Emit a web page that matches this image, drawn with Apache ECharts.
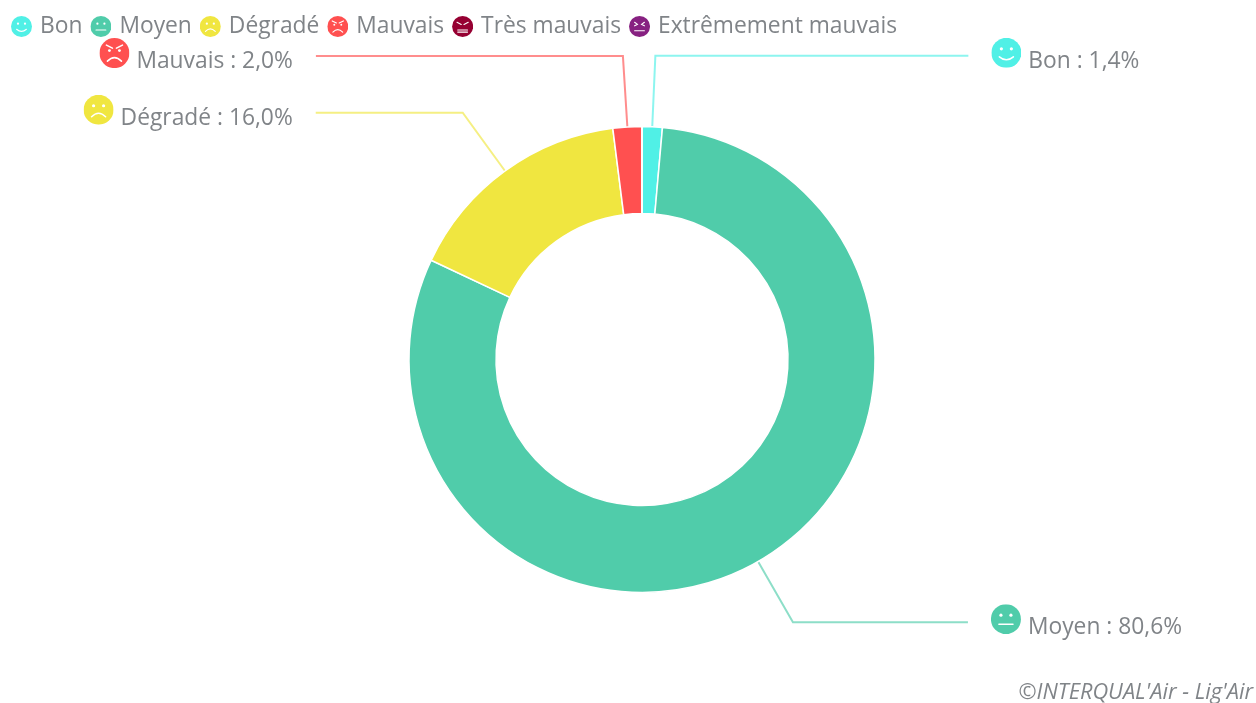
<!DOCTYPE html>
<html>
<head>
<meta charset="utf-8">
<title>Indice qualité de l'air</title>
<script src="https://cdn.jsdelivr.net/npm/echarts@6/dist/echarts.min.js"></script>
<style>
html,body{margin:0;padding:0;background:#fff;}
#main{width:1256px;height:703px;}
</style>
</head>
<body>
<div id="main"></div>
<script>
var categories = ['Bon','Moyen','Dégradé','Mauvais','Très mauvais','Extrêmement mauvais'];
var values = [1.4,80.6,16.0,2.0,0,0];
var colors = ['#50f0e6','#50ccaa','#f0e640','#ff5050','#960032','#872181'];
var faces = ['smile','flat','frown','angry','grim','sick'];
var lineStarts = [71,70,72,71,0,0];     // length des lignes de label
var lineEnds = [313,175,147,307,0,0];   // length2 des lignes de label

// petit smiley en svg, blanc sur la couleur de la catégorie
function faceIcon(color,face){
	var eyes = '<circle cx="10" cy="11" r="1.6" fill="#fff"/><circle cx="20" cy="11" r="1.6" fill="#fff"/>';
	var mouth = '';
	var stroke = ' fill="none" stroke="#fff" stroke-width="1.6" stroke-linecap="round"';
	if(face=='smile'){
		mouth = '<path d="M8 19Q15 25 22 19"'+stroke+'/>';
	}else if(face=='flat'){
		mouth = '<path d="M8 20H22"'+stroke+'/>';
	}else if(face=='frown'){
		mouth = '<path d="M8 22Q15 15 22 22"'+stroke+'/>';
	}else if(face=='angry'){
		eyes = '<path d="M7 7L13 10M23 7L17 10"'+stroke+'/><circle cx="10" cy="12.5" r="1.4" fill="#fff"/><circle cx="20" cy="12.5" r="1.4" fill="#fff"/>';
		mouth = '<path d="M8 23Q15 16 22 23"'+stroke+'/>';
	}else if(face=='grim'){
		eyes = '<path d="M7 9L13 12M23 9L17 12"'+stroke+'/>';
		mouth = '<path d="M8 20H22M8 23H22"'+stroke+'/>';
	}else{
		eyes = '<path d="M8 9L12 12L8 14M22 9L18 12L22 14"'+stroke+'/>';
		mouth = '<path d="M8 21H22"'+stroke+'/>';
	}
	var svg = '<svg xmlns="http://www.w3.org/2000/svg" width="60" height="60" viewBox="0 0 30 30"><circle cx="15" cy="15" r="15" fill="'+color+'"/>'+eyes+mouth+'</svg>';
	return 'data:image/svg+xml;charset=utf-8,'+encodeURIComponent(svg);
}

var legendData = [];
var pieData = [];
var rich = {
	t:{fontFamily:'Open Sans',fontSize:22.8,color:'#808488',padding:[17,0,0,7]}
};
for(var i=0;i<categories.length;i++){
	var icon = faceIcon(colors[i],faces[i]);
	legendData.push({name:categories[i],icon:'image://'+icon});
	rich['i'+i] = {width:30,height:30,backgroundColor:{image:icon}};
	pieData.push({
		name:categories[i],
		value:values[i],
		itemStyle:{color:colors[i]},
		label:{show:values[i]>0},
		labelLine:{show:values[i]>0,length:lineStarts[i],length2:lineEnds[i],lineStyle:{color:colors[i],width:2,opacity:0.65}}
	});
}

var myChart = echarts.init(document.getElementById('main'));
myChart.setOption({
	animation:false,
	title:{
		text:"©INTERQUAL'Air - Lig'Air",
		right:3,
		top:682,
		padding:0,
		textStyle:{fontFamily:'Open Sans',fontSize:21.8,fontStyle:'italic',fontWeight:'normal',color:'#808488'}
	},
	legend:{
		left:11,
		top:15,
		itemWidth:21,
		itemHeight:21,
		itemGap:8,
		padding:0,
		data:legendData,
		textStyle:{fontFamily:'Open Sans',fontSize:22.8,color:'#808488',padding:[3,0,0,3]}
	},
	series:[{
		type:'pie',
		center:[642,359.5],
		radius:[146,233],
		startAngle:90,
		clockwise:true,
		avoidLabelOverlap:false,
		minShowLabelAngle:0,
		itemStyle:{borderColor:'#fff',borderWidth:1.5},
		label:{
			distanceToLabelLine:23,
			padding:[0,0,6,0],
			formatter:function(params){
				var idx = categories.indexOf(params.name);
				return '{i'+idx+'|}{t|'+params.name+' : '+values[idx].toFixed(1).replace('.',',')+'%}';
			},
			rich:rich
		},
		labelLine:{minTurnAngle:0},
		emphasis:{scale:false},
		data:pieData
	}]
});
</script>
</body>
</html>
